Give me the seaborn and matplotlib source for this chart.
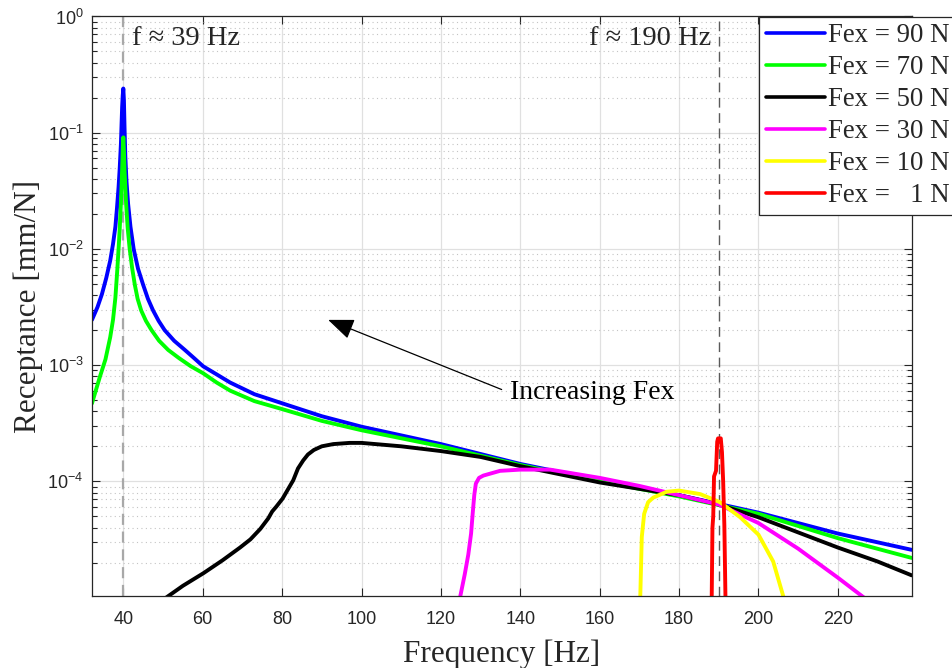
import seaborn as sns
import numpy as np
import pandas as pd
import matplotlib.pyplot as plt
from matplotlib.ticker import LogLocator, FixedLocator
from matplotlib.lines import Line2D

# Receptance curves (freq in Hz, receptance in mm/N)
f_90 = [32.1, 33.5, 34.6, 35.7, 36.7, 37.4, 38.0, 38.4, 38.8, 39.1, 39.4, 39.55, 39.7, 39.85, 40.0,
        40.15, 40.3, 40.5, 40.8, 41.2, 41.8, 42.6, 43.7, 45.0, 46.2, 47.5, 48.9, 50.4, 52.8, 55.5,
        57.8, 60.1, 63.5, 66.9, 73.0, 80.1, 90.0, 100.0, 120.0, 140.0, 160.0, 180.0, 200.0, 220.0, 238.6]
r_90 = [2.45e-3, 3.16e-3, 4.07e-3, 5.62e-3, 7.94e-3, 1.10e-2, 1.55e-2, 2.24e-2, 3.39e-2, 5.01e-2,
        8.13e-2, 0.117, 0.166, 0.209, 0.240, 0.191, 0.112, 6.31e-2, 3.80e-2, 2.45e-2, 1.55e-2, 1.00e-2,
        6.76e-3, 4.90e-3, 3.72e-3, 2.95e-3, 2.40e-3, 2.00e-3, 1.62e-3, 1.35e-3, 1.15e-3, 9.77e-4,
        8.32e-4, 7.08e-4, 5.62e-4, 4.68e-4, 3.63e-4, 2.95e-4, 2.09e-4, 1.41e-4, 1.02e-4, 7.59e-5,
        5.37e-5, 3.55e-5, 2.57e-5]

f_70 = [32.1, 34.1, 35.5, 36.7, 37.4, 38.0, 38.5, 38.8, 39.1, 39.4, 39.6, 39.8, 39.9, 40.0, 40.15,
        40.3, 40.7, 41.1, 41.6, 42.2, 42.9, 43.6, 44.5, 45.7, 47.1, 49.0, 51.3, 54.0, 57.0, 60.1, 63.5,
        66.9, 73.0, 80.1, 90.0, 100.0, 120.0, 140.0, 160.0, 180.0, 200.0, 220.0, 238.6]
r_70 = [4.68e-4, 7.94e-4, 1.12e-3, 1.74e-3, 2.45e-3, 3.80e-3, 6.76e-3, 1.00e-2, 1.51e-2, 2.51e-2,
        3.80e-2, 6.03e-2, 7.94e-2, 9.12e-2, 7.08e-2, 4.79e-2, 2.45e-2, 1.51e-2, 1.00e-2, 6.92e-3,
        4.90e-3, 3.72e-3, 2.95e-3, 2.40e-3, 2.00e-3, 1.62e-3, 1.35e-3, 1.15e-3, 9.77e-4, 8.51e-4,
        7.08e-4, 6.03e-4, 4.90e-4, 4.17e-4, 3.31e-4, 2.75e-4, 2.00e-4, 1.38e-4, 1.00e-4, 7.41e-5,
        5.25e-5, 3.24e-5, 2.19e-5]

f_50 = [50.0, 55.0, 60.2, 65.0, 69.4, 72.0, 74.5, 76.5, 77.5, 78.5, 80.1, 82.8, 84.0, 85.3, 86.5,
        88.0, 90.0, 92.9, 97.0, 100.0, 110.0, 120.0, 130.0, 140.0, 160.0, 180.0, 190.0, 200.0, 210.0,
        220.0, 230.0, 238.6]
r_50 = [9.55e-6, 1.26e-5, 1.62e-5, 2.09e-5, 2.69e-5, 3.16e-5, 3.89e-5, 4.79e-5, 5.50e-5, 6.03e-5,
        7.08e-5, 1.02e-4, 1.29e-4, 1.51e-4, 1.70e-4, 1.86e-4, 2.00e-4, 2.09e-4, 2.14e-4, 2.14e-4,
        2.00e-4, 1.82e-4, 1.62e-4, 1.35e-4, 9.77e-5, 7.59e-5, 6.31e-5, 4.90e-5, 3.63e-5, 2.69e-5,
        2.04e-5, 1.55e-5]

f_30 = [124.7, 126.0, 126.9, 127.6, 128.0, 128.4, 128.8, 129.6, 130.7, 134.9, 140.0, 147.5, 160.0,
        170.0, 180.0, 190.0, 200.0, 210.0, 220.0, 227.3]
r_30 = [9.55e-6, 1.58e-5, 2.34e-5, 3.55e-5, 5.25e-5, 7.59e-5, 9.55e-5, 1.07e-4, 1.12e-4, 1.23e-4,
        1.26e-4, 1.26e-4, 1.07e-4, 9.12e-5, 7.59e-5, 6.31e-5, 4.37e-5, 2.63e-5, 1.48e-5, 9.55e-6]

f_10 = [170.2, 170.6, 171.2, 172.2, 173.5, 176.9, 180.0, 185.3, 190.3, 195.4, 200.0, 203.7, 206.5]
r_10 = [9.55e-6, 3.31e-5, 5.25e-5, 6.61e-5, 7.24e-5, 8.13e-5, 8.32e-5, 7.76e-5, 6.61e-5, 4.90e-5,
        3.47e-5, 2.04e-5, 9.55e-6]

f_1 = [188.2, 188.4, 188.6, 188.8, 189.3, 189.6, 189.8, 190.5, 190.8, 191.1, 191.4, 191.7]
r_1 = [8.91e-6, 3.98e-5, 5.01e-5, 1.10e-4, 1.23e-4, 2.19e-4, 2.34e-4, 2.34e-4, 1.78e-4, 1.00e-4,
       4.17e-5, 8.91e-6]

labels = ["Fex = 90 N", "Fex = 70 N", "Fex = 50 N", "Fex = 30 N", "Fex = 10 N", "Fex =   1 N"]
colors = ["#0000ff", "#00ff00", "#000000", "#ff00ff", "#ffff00", "#ff0000"]
series = [(f_90, r_90), (f_70, r_70), (f_50, r_50), (f_30, r_30), (f_10, r_10), (f_1, r_1)]

x_ticks = [40, 60, 80, 100, 120, 140, 160, 180, 200, 220]
y_ticks = [1e-4, 1e-3, 1e-2, 1e-1, 1e0]

sns.set_style("ticks")
plt.rcParams["font.family"] = ["Liberation Sans", "DejaVu Sans"]
plt.rcParams["mathtext.fontset"] = "custom"
plt.rcParams["mathtext.rm"] = "Liberation Sans"
plt.rcParams["mathtext.it"] = "Liberation Sans:italic"
plt.rcParams["mathtext.bf"] = "Liberation Sans:bold"
serif = ["Liberation Serif", "DejaVu Serif"]
dark = "#262626"

fig = plt.figure(figsize=(9.52, 6.68), dpi=100)
ax = fig.add_axes([0.0966, 0.1078, 0.8611, 0.8675])

for (fx, rx), lab, col in zip(series, labels, colors):
    df = pd.DataFrame({"freq": fx, "rec": rx})
    sns.lineplot(data=df, x="freq", y="rec", color=col, lw=2.8, ax=ax,
                 estimator=None, sort=False, label=lab, legend=False)

ax.set_yscale("log")
ax.set_xlim(32.1, 238.6)
ax.set_ylim(1.03e-5, 1.0)
ax.xaxis.set_major_locator(FixedLocator(x_ticks))
ax.yaxis.set_major_locator(FixedLocator(y_ticks))
ax.yaxis.set_minor_locator(LogLocator(base=10, subs=np.arange(2, 10), numticks=20))

ax.grid(which="major", color="#e0e0e0", lw=0.9, ls="-")
ax.grid(which="minor", axis="y", color="#c4c4c4", lw=0.8, ls=(0, (1, 3)))
ax.set_axisbelow(True)

ax.tick_params(which="both", direction="in", top=True, right=True, color=dark,
               labelcolor=dark, labelsize=13)
ax.tick_params(which="major", length=5.5, width=0.8)
ax.tick_params(which="minor", length=3.3, width=0.8)
ax.tick_params(axis="x", pad=11)
ax.tick_params(axis="y", pad=6)
for sp in ax.spines.values():
    sp.set_color(dark)
    sp.set_linewidth(0.9)

ax.set_xlabel("Frequency [Hz]", family=serif, fontsize=22.5, color=dark, labelpad=8)
ax.set_ylabel("Receptance [mm/N]", family=serif, fontsize=22.5, color=dark, labelpad=3)

# resonance markers
ax.axvline(40.0, color="#a8a8a8", lw=1.6, ls=(0, (5, 3)), zorder=1.5)
ax.axvline(190.0, color="#5a5a5a", lw=1.0, ls=(0, (7, 4)), zorder=1.5)
ax.text(42.1, 0.568, "f ≈ 39 Hz", family=serif, fontsize=20.5, color=dark, va="baseline", ha="left")
ax.text(188.0, 0.568, "f ≈ 190 Hz", family=serif, fontsize=20.5, color=dark, va="baseline", ha="right")

ax.annotate("", xy=(91.6, 2.45e-3), xytext=(135.3, 6.16e-4),
            arrowprops=dict(arrowstyle="-|>,head_length=1.0,head_width=0.4", color="k",
                            lw=0.9, mutation_scale=16, shrinkA=0, shrinkB=0))
ax.text(137.4, 5.13e-4, "Increasing Fex", family=serif, fontsize=20, color="k",
        va="baseline", ha="left")

handles = [Line2D([], [], color=c, lw=2.6) for c in colors]
leg = ax.legend(handles, labels, loc="upper left", bbox_to_anchor=(759 / 952, 1 - 16.5 / 668),
                bbox_transform=fig.transFigure, borderaxespad=0, frameon=True, fancybox=False,
                framealpha=1, edgecolor=dark, prop={"family": serif, "size": 19.3},
                borderpad=0.25, labelspacing=0.26, handlelength=2.2, handletextpad=0.12)
leg.get_frame().set_linewidth(0.9)

fig.savefig("out.png", dpi=100)
